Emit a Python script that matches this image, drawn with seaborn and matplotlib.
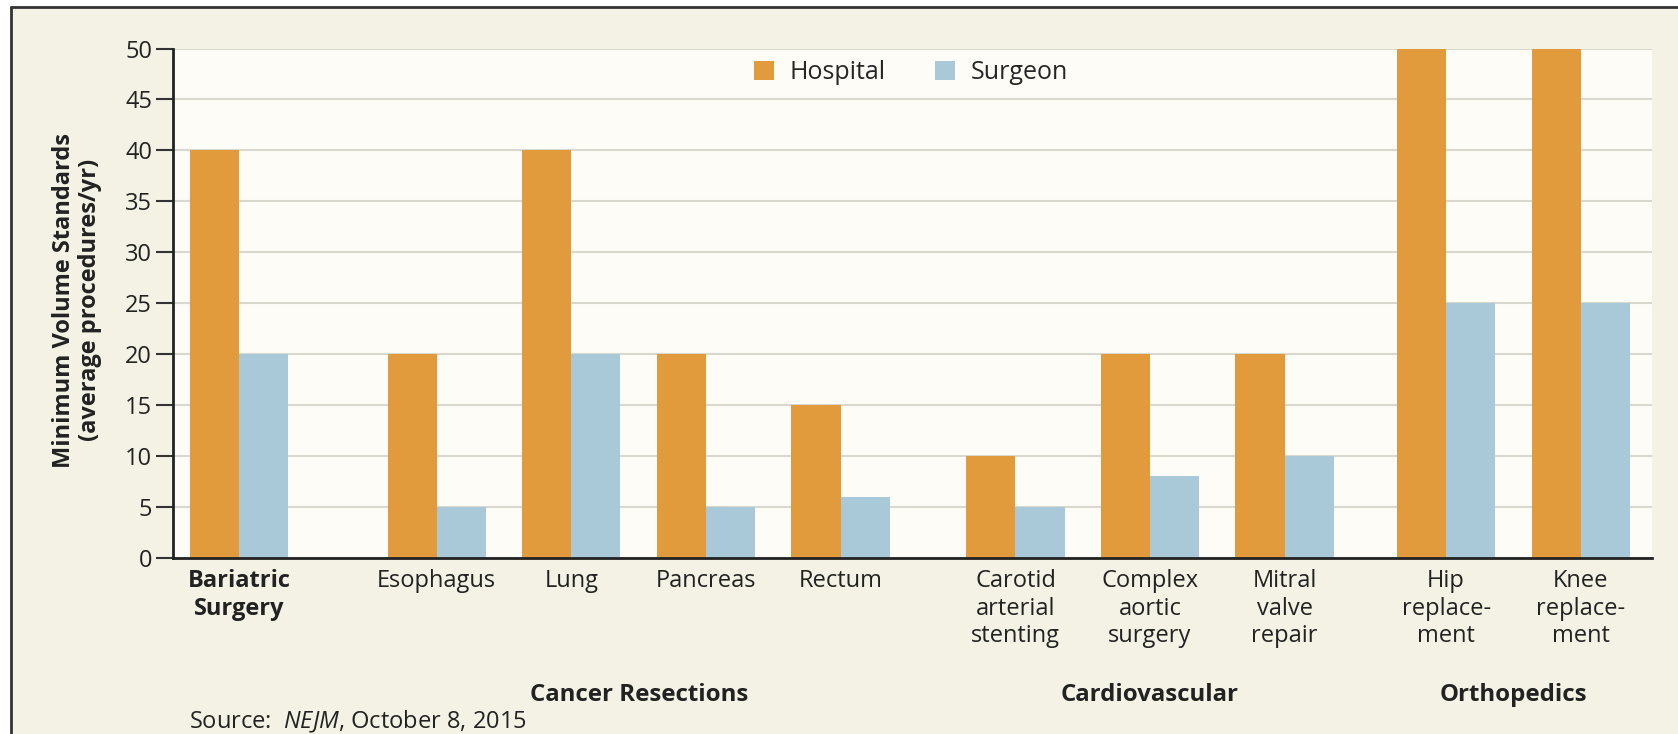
import numpy as np
import pandas as pd
import matplotlib.pyplot as plt
import seaborn as sns
from matplotlib.lines import Line2D
from matplotlib.patches import Rectangle
from matplotlib.transforms import blended_transform_factory

# Data
procedures = ["Bariatric\nSurgery", "Esophagus", "Lung", "Pancreas", "Rectum",
              "Carotid\narterial\nstenting", "Complex\naortic\nsurgery",
              "Mitral\nvalve\nrepair", "Hip\nreplace-\nment", "Knee\nreplace-\nment"]
group_of = [0, 1, 1, 1, 1, 2, 2, 2, 3, 3]
group_names = [None, "Cancer Resections", "Cardiovascular", "Orthopedics"]
hospital = [40, 20, 40, 20, 15, 10, 20, 20, 50, 50]
surgeon = [20, 5, 20, 5, 6, 5, 8, 10, 25, 25]

# Layout: extra space in front of each group
group_gap = [0, 0.47, 0.30, 0.20]
pos = []
x = 0.0
for i, g in enumerate(group_of):
    if i > 0:
        x += 1 + (group_gap[g] if g != group_of[i - 1] else 0)
    pos.append(round(x, 3))

df = pd.DataFrame({
    "pos": pos * 2,
    "value": hospital + surgeon,
    "type": ["Hospital"] * len(hospital) + ["Surgeon"] * len(surgeon),
})

sns.set_style("white")
plt.rcParams['font.family'] = ['Open Sans', 'DejaVu Sans']
plt.rcParams['mathtext.fontset'] = 'custom'
plt.rcParams['mathtext.rm'] = 'Open Sans'
plt.rcParams['mathtext.it'] = 'Open Sans:italic'

W, H = 1678, 734
fig = plt.figure(figsize=(W / 100, H / 100), dpi=100, facecolor='#f4f2e4')
ax = fig.add_axes([173 / W, 1 - 558 / H, (1652 - 173) / W, (558 - 48.5) / H])
ax.set_facecolor('#fdfcf6')

sns.barplot(data=df, x="pos", y="value", hue="type", native_scale=True,
            width=0.73, palette={"Hospital": "#e19b3c", "Surgeon": "#a9c8d8"},
            saturation=1, linewidth=0, errorbar=None, ax=ax)

ax.set_xlim(-0.49, 10.5)
ax.set_ylim(0, 50)
ax.set_yticks(range(0, 51, 5))
ax.yaxis.grid(True, color='#d9d8cf', lw=1.5)
ax.xaxis.grid(False)
ax.set_axisbelow(True)
for s in ['top', 'right']:
    ax.spines[s].set_visible(False)
for s in ['left', 'bottom']:
    ax.spines[s].set_color('#222222')
    ax.spines[s].set_linewidth(2)
ax.tick_params(axis='y', length=12, width=1.5, color='#333333', labelsize=17,
               pad=3, direction='out', labelcolor='#222222', left=True)
ax.set_xticks(pos)
ax.set_xticklabels(procedures, fontsize=17, linespacing=1.2, color='#222222')
ax.tick_params(axis='x', length=0, pad=8)
ax.get_xticklabels()[0].set_fontweight('bold')
ax.set_xlabel('')
ax.set_ylabel('')

# Group labels under the ticks
trans = blended_transform_factory(ax.transData, fig.transFigure)
for g, name in enumerate(group_names):
    if name is None:
        continue
    xs = [p for p, gg in zip(pos, group_of) if gg == g]
    ax.text(np.mean(xs), 1 - 695 / H, name, transform=trans, ha='center',
            va='center', fontsize=17.3, fontweight='bold', color='#222222')

# Y label
fig.text(77 / W, 1 - 300 / H, "Minimum Volume Standards\n(average procedures/yr)",
         rotation=90, ha='center', va='center', multialignment='center',
         fontsize=17, fontweight='bold', color='#222222', linespacing=1.1)

handles, labels = ax.get_legend_handles_labels()
ax.legend(handles, labels, loc='center', bbox_to_anchor=(0.499, 0.952), ncol=2,
          frameon=False, fontsize=18, handlelength=0.8, handleheight=0.8,
          handletextpad=0.6, columnspacing=2.0)

fig.text(189 / W, 1 - 722 / H, "Source:  $\\mathit{NEJM}$, October 8, 2015",
         ha='left', va='center', fontsize=17, color='#222222')

# Outer frame
fig.add_artist(Rectangle((0, 0), 10 / W, 1, transform=fig.transFigure,
                         color='white', zorder=0))
fig.add_artist(Rectangle((0, 1 - 6 / H), 1, 6 / H, transform=fig.transFigure,
                         color='white', zorder=0))
fig.add_artist(Line2D([11 / W, 11 / W], [0, 1 - 7 / H], transform=fig.transFigure,
                      color='#333333', lw=2))
fig.add_artist(Line2D([11 / W, 1], [1 - 7 / H, 1 - 7 / H], transform=fig.transFigure,
                      color='#333333', lw=2))

fig.savefig('out.png', dpi=100, facecolor=fig.get_facecolor())
